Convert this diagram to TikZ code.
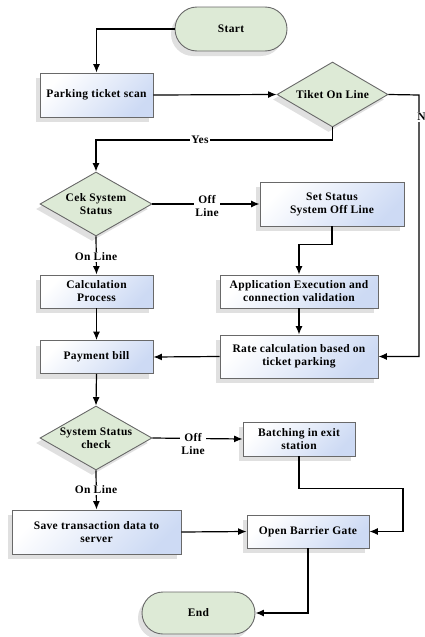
\documentclass[tikz,border=0pt]{standalone}
\usepackage{fontspec}
\setmainfont{Liberation Serif}[LetterSpace=3]
\usetikzlibrary{shapes.geometric,shapes.misc,shadows,arrows.meta}

\definecolor{boxblue}{RGB}{205,218,244}
\definecolor{decgreen}{RGB}{221,234,214}
\definecolor{edgegray}{RGB}{105,105,105}

\begin{document}
\begin{tikzpicture}[x=1pt,y=-1pt,
	font=\fontsize{11.5}{13}\selectfont\bfseries,
	>={Latex[length=8.5pt,width=7pt]},
	flow/.style={draw=black, line width=1.2pt, ->},
	soft/.style={drop shadow={shadow xshift=-4pt, shadow yshift=-5pt, opacity=0.12, fill=black}},
	proc/.style={rectangle, draw=edgegray, line width=0.9pt, top color=white, bottom color=boxblue,
		shading angle=45, align=center, inner sep=0pt, soft},
	decide/.style={diamond, draw=edgegray, line width=0.9pt, fill=decgreen, aspect=1.7,
		align=center, inner sep=0pt, soft},
	term/.style={rounded rectangle, draw=edgegray, line width=0.9pt, fill=decgreen,
		align=center, inner sep=0pt, soft},
	lbl/.style={fill=white, align=center, inner sep=1pt}
	]
	\useasboundingbox (0,0) rectangle (425,637);
	
	% nodes
	\node[term, minimum width=112pt, minimum height=44pt] (start) at (231,29) {Start};
	\node[proc, minimum width=113pt, minimum height=44pt] (scan) at (96.5,95) {Parking ticket scan};
	\node[decide, minimum width=111pt, minimum height=65pt] (tiket) at (332.5,94.5) {Tiket On Line};
	\node[decide, minimum width=112pt, minimum height=64pt] (cek) at (96,204) {Cek System\\Status};
	\node[proc, minimum width=144pt, minimum height=44pt] (setstat) at (332,204) {Set Status\\System Off Line};
	\node[proc, minimum width=113pt, minimum height=33pt] (calc) at (96.5,291.5) {Calculation\\Process};
	\node[proc, minimum width=158pt, minimum height=33pt] (appx) at (299,291.5) {Application Execution and\\connection validation};
	\node[proc, minimum width=113pt, minimum height=33pt] (pay) at (96.5,357) {Payment bill};
	\node[proc, minimum width=158pt, minimum height=43pt] (rate) at (299,356.5) {Rate calculation based on\\ticket parking};
	\node[decide, minimum width=112pt, minimum height=64pt] (sys) at (96,438) {System Status\\check};
	\node[proc, minimum width=112pt, minimum height=34pt] (batch) at (299,439) {Batching in exit\\station};
	\node[proc, minimum width=169pt, minimum height=44pt] (save) at (96.5,532) {Save transaction data to\\server};
	\node[proc, minimum width=122pt, minimum height=33pt] (gate) at (308,531.5) {Open Barrier Gate};
	\node[term, minimum width=113pt, minimum height=42pt] (end) at (198.5,613) {End};
	
	\coordinate (noturn) at (419,95);
	\coordinate (yesturn) at (332.5,140);
	
	% connectors
	\draw[flow] (start.west) -| (scan.north);
	\draw[flow] (scan.east) -- (tiket.west);
	\draw[flow] (tiket.east) -- (noturn) |- (rate.east);
	\draw[flow] (tiket.south) -- (yesturn) -| (cek.north);
	\draw[flow] (cek.east) -- (setstat.west);
	\draw[flow] (setstat.south) -- ++(0,18) -| (appx.north);
	\draw[flow] (appx.south) -- (rate.north);
	\draw[flow] (rate.west) -- (pay.east);
	\draw[flow] (cek.south) -- (calc.north);
	\draw[flow] (calc.south) -- (pay.north);
	\draw[flow] (pay.south) -- (sys.north);
	\draw[flow] (sys.east) -- (batch.west);
	\draw[flow] (batch.south) -- ++(0,32) -- ++(104,0) |- (gate.east);
	\draw[flow] (sys.south) -- (save.north);
	\draw[flow] (save.east) -- (gate.west);
	\draw[flow] (gate.south) |- (end.east);
	
	% labels
	\node[lbl] (nolbl) at (421.5,117) {N};
	\node[lbl] (yeslbl) at (200,140) {Yes};
	\node[lbl] (off1) at (207,206) {Off\\Line};
	\node[lbl] (on1) at (96,257) {On Line};
	\node[lbl] (off2) at (193,444) {Off\\Line};
	\node[lbl] (on2) at (96,490) {On Line};
\end{tikzpicture}
\end{document}
